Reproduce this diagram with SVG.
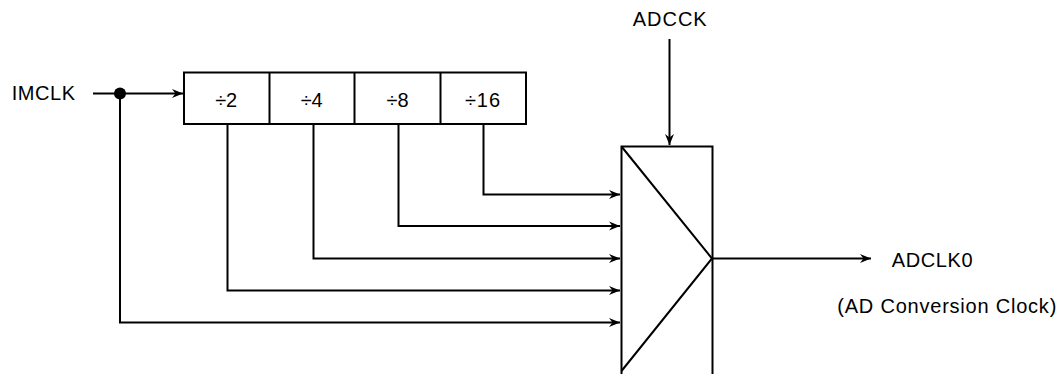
<svg xmlns="http://www.w3.org/2000/svg" width="1062" height="374" viewBox="0 0 1062 374">
<style>
.ln{fill:none;stroke:#000;stroke-width:2}
.ar{fill:none;stroke:#000;stroke-width:2;marker-end:url(#ah)}
.tx{font-family:"Liberation Sans",Arial,sans-serif;font-size:20px;fill:#000}
.c{text-anchor:middle}
</style>
<defs>
<marker id="ah" markerWidth="12" markerHeight="10" refX="11" refY="5" orient="auto" markerUnits="userSpaceOnUse">
<path d="M0,0.5 L11,5 L0,9.5 L3.5,5 Z" fill="#000"/>
</marker>
</defs>
<rect width="1062" height="374" fill="#fff"/>
<g id="connectors">
<path class="ar" d="M93,93.5 H183"/>
<path class="ar" d="M120,93.5 V322.5 H620"/>
<path class="ar" d="M227.5,124 V290.5 H620"/>
<path class="ar" d="M313.5,124 V258.5 H620"/>
<path class="ar" d="M398.5,124 V226 H620"/>
<path class="ar" d="M483.5,124 V194.5 H620"/>
<path class="ar" d="M669.5,39 V145"/>
<path class="ar" d="M712,258.5 H871"/>
<circle cx="120" cy="93.5" r="6" fill="#000"/>
</g>
<g id="imclk"><text class="tx" x="11.7" y="100" textLength="63.3" lengthAdjust="spacing">IMCLK</text></g>
<g id="divider">
<rect class="ln" x="184" y="72.5" width="342" height="51.5"/>
<path class="ln" d="M269.5,72.5 V124 M354.5,72.5 V124 M440.5,72.5 V124"/>
<text class="tx c" x="226.2" y="106.5">÷2</text>
<text class="tx c" x="311.7" y="106.5">÷4</text>
<text class="tx c" x="397.5" y="106.5">÷8</text>
<text class="tx c" x="482.5" y="106.5" textLength="35" lengthAdjust="spacing">÷16</text>
</g>
<g id="adcck"><text class="tx c" x="669.7" y="26" textLength="74" lengthAdjust="spacing">ADCCK</text></g>
<g id="mux">
<path class="ln" d="M621.5,380 V146.5 H712.5 V380"/>
<path class="ln" d="M621.5,146.5 L712,258.5 L621.5,371"/>
</g>
<g id="adclk0">
<text class="tx" x="891.7" y="266.7" textLength="81" lengthAdjust="spacing">ADCLK0</text>
<text class="tx" x="837.3" y="313.3" textLength="219" lengthAdjust="spacing">(AD Conversion Clock)</text>
</g>
</svg>
